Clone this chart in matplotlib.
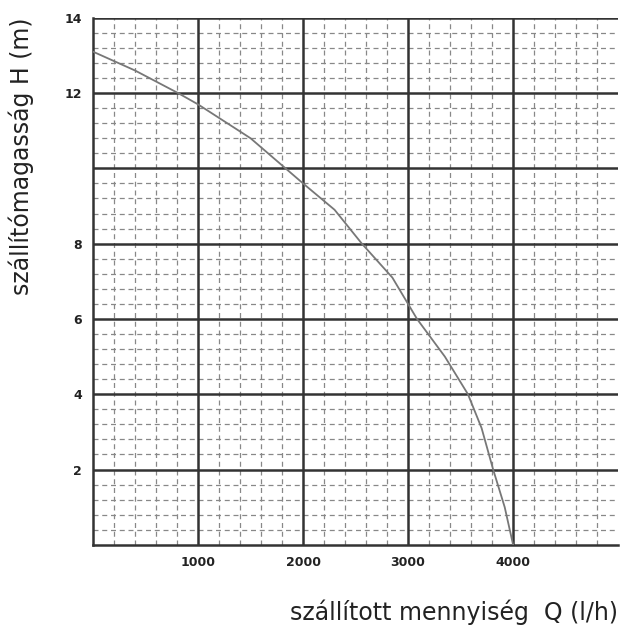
import matplotlib
matplotlib.use("Agg")
import matplotlib.pyplot as plt
import numpy as np

q = [0, 400, 810, 1000, 1500, 2000, 2300, 2560, 2850, 3085, 3350, 3570, 3700, 3810, 3920, 4000]
h = [13.1, 12.6, 12.0, 11.7, 10.8, 9.6, 8.9, 8.0, 7.1, 6.0, 5.0, 4.0, 3.1, 2.0, 1.0, 0.0]
xticks = [1000, 2000, 3000, 4000]
xlabels = ["1000", "2000", "3000", "4000"]
yticks = [2, 4, 6, 8, 12, 14]
ylabels = ["2", "4", "6", "8", "12", "14"]

fig = plt.figure(figsize=(6.2, 6.35), dpi=100)
ax = fig.add_axes([0.15, 0.142, 0.847, 0.83])
ax.set_xlim(0, 5000)
ax.set_ylim(0, 14)

for x in np.arange(200, 5000, 200):
    if x % 1000:
        ax.axvline(x, color="#888888", lw=0.9, ls=(0, (4, 3)), zorder=1)
for y in np.arange(0.4, 14, 0.4):
    if abs(y / 2 - round(y / 2)) > 0.01:
        ax.axhline(y, color="#888888", lw=0.9, ls=(0, (4, 3)), zorder=1)
for x in [1000, 2000, 3000, 4000]:
    ax.axvline(x, color="#333333", lw=1.8, zorder=2)
for y in [2, 4, 6, 8, 10, 12, 14]:
    ax.axhline(y, color="#333333", lw=1.8, zorder=2)

ax.plot(q, h, color="#777777", lw=1.3, zorder=3)

for s in ["top", "right"]:
    ax.spines[s].set_visible(False)
for s in ["left", "bottom"]:
    ax.spines[s].set_linewidth(1.8)
    ax.spines[s].set_color("#333333")

ax.set_xticks(xticks)
ax.set_xticklabels(xlabels, fontsize=9, fontweight="bold", color="#222222")
ax.set_yticks(yticks)
ax.set_yticklabels(ylabels, fontsize=9, fontweight="bold", color="#222222")
ax.tick_params(length=0, pad=8)
ax.set_xlabel("szállított mennyiség  Q (l/h)", fontsize=17, color="#222222",
              loc="right", labelpad=22)
ax.set_ylabel("szállítómagasság H (m)", fontsize=17, color="#222222",
              loc="top", labelpad=22)

fig.savefig("out.png", dpi=100)
